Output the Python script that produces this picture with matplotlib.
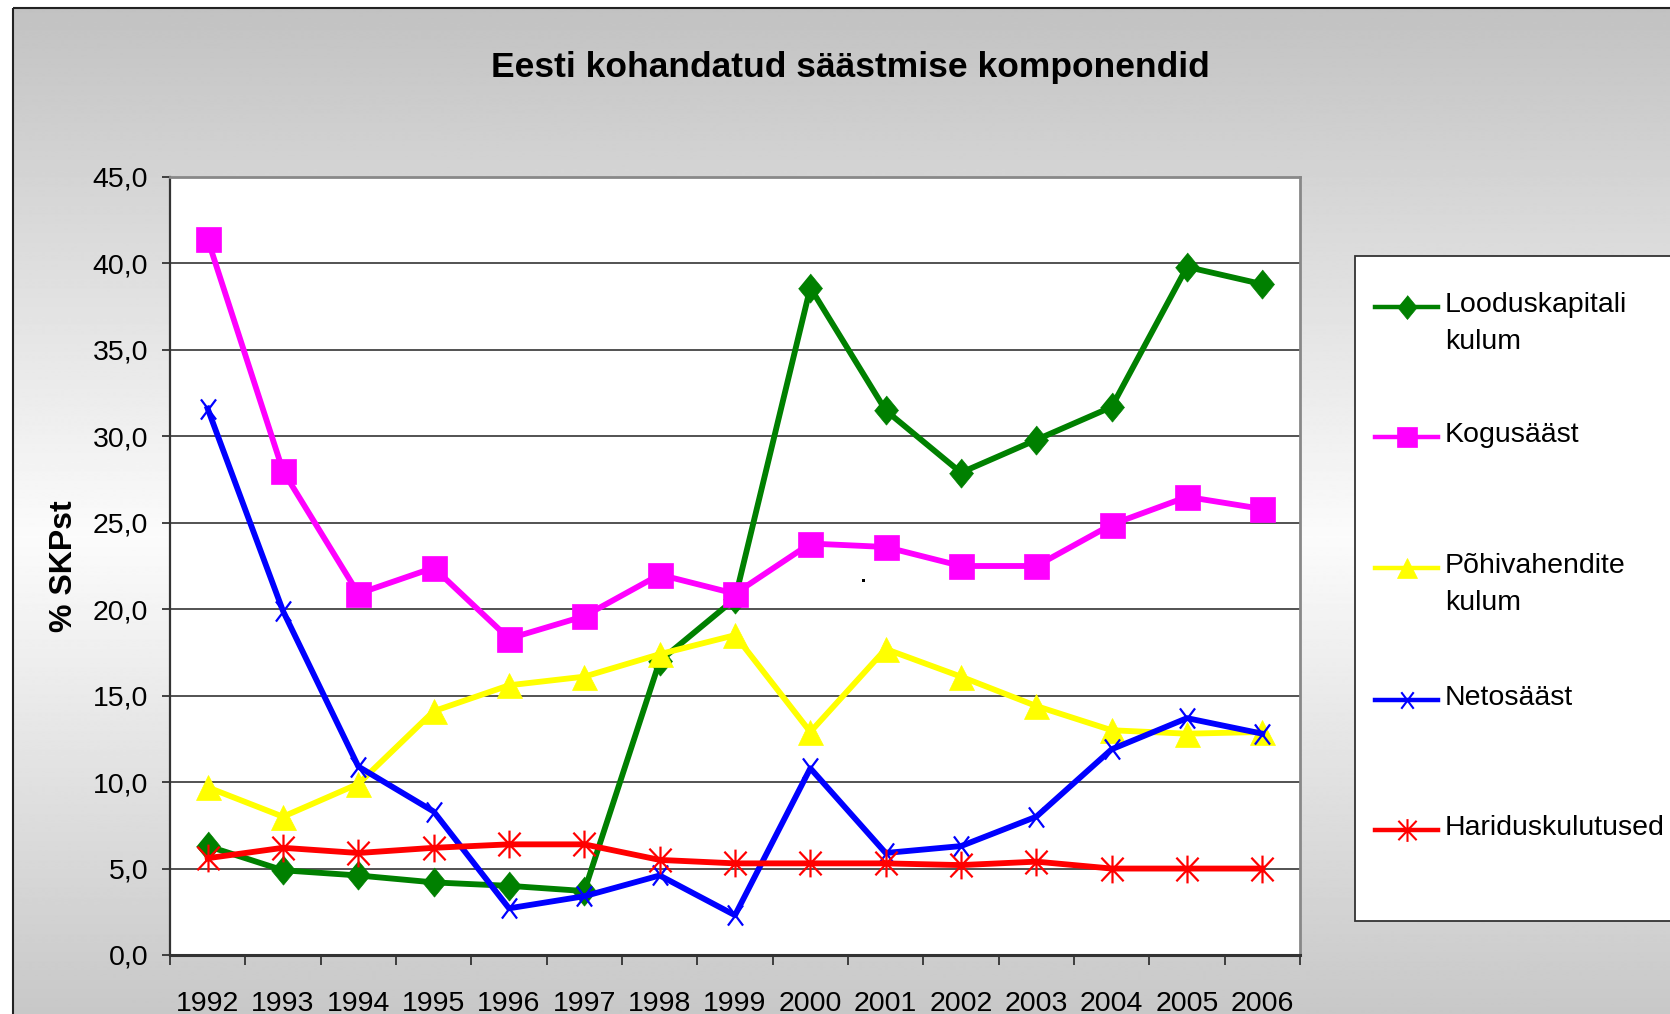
import matplotlib
matplotlib.use('Agg')
import matplotlib.pyplot as plt
import numpy as np
from matplotlib.path import Path
from matplotlib.patches import Rectangle
from matplotlib.lines import Line2D
from matplotlib.ticker import FuncFormatter, FixedLocator

# ---------------- data ----------------
years = ['1992', '1993', '1994', '1995', '1996', '1997', '1998', '1999',
         '2000', '2001', '2002', '2003', '2004', '2005', '2006']
looduskapitali = [6.3, 4.9, 4.6, 4.2, 4.0, 3.7, 17.0, 20.6, 38.6, 31.5, 27.9, 29.8, 31.7, 39.8, 38.8]
kogusaast = [41.4, 28.0, 20.9, 22.4, 18.3, 19.6, 22.0, 20.9, 23.8, 23.6, 22.5, 22.5, 24.9, 26.5, 25.8]
pohivahendite = [9.7, 8.0, 9.9, 14.1, 15.6, 16.1, 17.4, 18.5, 12.9, 17.7, 16.1, 14.4, 13.0, 12.8, 12.9]
netosaast = [31.6, 19.9, 10.9, 8.3, 2.7, 3.4, 4.6, 2.3, 10.8, 5.9, 6.3, 8.0, 11.9, 13.7, 12.8]
hariduskulutused = [5.6, 6.2, 5.9, 6.2, 6.4, 6.4, 5.5, 5.3, 5.3, 5.3, 5.2, 5.4, 5.0, 5.0, 5.0]
labels = ['Looduskapitali\nkulum', 'Kogusääst', 'Põhivahendite\nkulum', 'Netosääst', 'Hariduskulutused']
title = 'Eesti kohandatud säästmise komponendid'
ylabel = '% SKPst'
yticks = [0, 5, 10, 15, 20, 25, 30, 35, 40, 45]

# ---------------- styles ----------------
plt.rcParams['font.family'] = ['Liberation Sans', 'DejaVu Sans']
W, H = 1670, 1014
fig = plt.figure(figsize=(W / 100, H / 100), dpi=100)
fig.patch.set_facecolor('white')

diamond = [(0, 1), (0.82, 0), (0, -1), (-0.82, 0)]
MT, LT = Path.MOVETO, Path.LINETO
asterisk = Path([(0, -1), (0, 1), (-0.8, -0.85), (0.8, 0.85), (-0.8, 0.85), (0.8, -0.85)],
                [MT, LT, MT, LT, MT, LT])
xmark = Path([(-0.75, -1), (0.75, 1), (-0.75, 1), (0.75, -1)], [MT, LT, MT, LT])

series = [looduskapitali, kogusaast, pohivahendite, netosaast, hariduskulutused]
colors = ['#008000', '#FF00FF', '#FFFF00', '#0000FF', '#FF0000']
markers = [diamond, 's', '^', xmark, asterisk]
msizes = [21, 18, 18, 14.5, 20]
filled = [True, True, True, False, False]

# ---------------- background ----------------
bg = fig.add_axes([0, 0, 1, 1], zorder=0)
bg.set_xlim(0, W)
bg.set_ylim(H, 0)
bg.axis('off')
yy = np.arange(H)
vals = np.interp(yy, [0, 530, H], [0.76, 0.985, 0.78])
img = np.repeat(vals[:, None], 2, axis=1)
bg.imshow(img, cmap='gray', vmin=0, vmax=1, extent=(13, W + 5, H + 5, 8),
          aspect='auto', interpolation='bilinear')
bg.add_patch(Rectangle((13, 8), W, H, fill=False, ec='#222222', lw=1.5))

# title and y label
fig.text(850 / W, 1 - 68 / H, title, ha='center', va='center', fontsize=25.5,
         fontweight='bold')
fig.text(64 / W, 1 - 566 / H, ylabel, ha='center', va='center', rotation=90,
         fontsize=23, fontweight='bold')

# ---------------- main axes ----------------
ax = fig.add_axes([170 / W, 1 - 955 / H, 1130 / W, 778 / H], zorder=1)
ax.set_facecolor('white')
x = np.arange(len(years))
for s, c, m, ms, f in zip(series, colors, markers, msizes, filled):
    ax.plot(x, s, color=c, lw=4.2, marker=m, markersize=ms,
            markerfacecolor=c if f else 'none', markeredgecolor=c,
            markeredgewidth=0.5 if f else 1.6, solid_joinstyle='round', clip_on=False)

ax.set_xlim(-0.5, len(years) - 0.5)
ax.set_ylim(0, 45)
ax.xaxis.set_major_locator(FixedLocator(np.arange(-0.5, len(years), 1.0)))
ax.xaxis.set_minor_locator(FixedLocator(x))
ax.set_xticklabels([], minor=False)
ax.set_xticks(x, years, minor=True)
ax.tick_params(axis='x', which='major', length=7.2, width=1.3, color='#333333', direction='out')
ax.tick_params(axis='x', which='minor', length=0, pad=26, labelsize=20.5)
ax.set_yticks(yticks)
ax.yaxis.set_major_formatter(FuncFormatter(lambda v, p: f'{v:.1f}'.replace('.', ',')))
ax.tick_params(axis='y', length=5.8, width=1.3, color='#333333', pad=10, labelsize=20.5)
ax.grid(axis='y', color='#444444', lw=1.3, zorder=0)
ax.set_axisbelow(True)
for side in ['top', 'right']:
    ax.spines[side].set_color('#888888')
    ax.spines[side].set_linewidth(2)
ax.spines['left'].set_color('#333333')
ax.spines['left'].set_linewidth(1.6)
ax.spines['bottom'].set_color('#333333')
ax.spines['bottom'].set_linewidth(2.2)

# stray dot in the reference
fig.add_artist(Rectangle((862 / W, 1 - 582 / H), 3 / W, 3 / H, transform=fig.transFigure,
                         fc='black', ec='none', zorder=5))

# ---------------- legend ----------------
bg.add_patch(Rectangle((1355, 256), 400, 665, fc='white', ec='#333333', lw=1.3))
entry_y = [307, 437, 568, 700, 830]
for lab, c, m, ms, f, ey in zip(labels, colors, markers, msizes, filled, entry_y):
    bg.add_line(Line2D([1375, 1438], [ey, ey], color=c, lw=3.2))
    bg.add_line(Line2D([1406.5], [ey], marker=m, markersize=ms * 0.82, color=c,
                       markerfacecolor=c if f else 'none', markeredgecolor=c,
                       markeredgewidth=0.5 if f else 1.5, linestyle='none'))
    bg.text(1445, ey - 15, lab, ha='left', va='top', fontsize=20.5,
            linespacing=1.55)

fig.savefig('out.png', dpi=100, facecolor='white')
